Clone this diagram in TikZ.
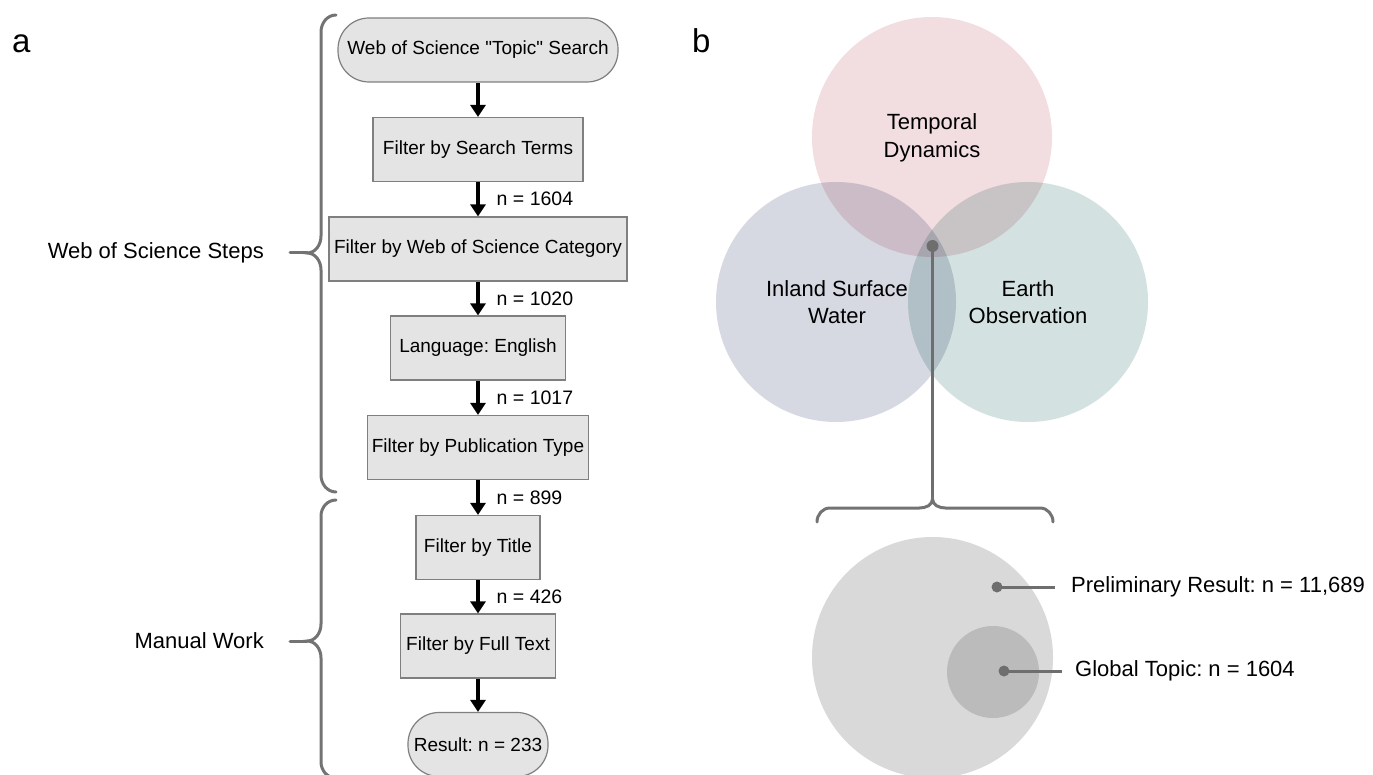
\documentclass[tikz,border=0pt]{standalone}
\usepackage{fontspec}
\setmainfont{Liberation Sans}
\usetikzlibrary{arrows.meta}
\definecolor{boxfill}{HTML}{E4E4E4}
\definecolor{boxline}{HTML}{7F7F7F}
\definecolor{bracegray}{HTML}{737373}
\definecolor{tdpink}{HTML}{F2DDE1}
\definecolor{iswblue}{HTML}{D6D9E2}
\definecolor{eogreen}{HTML}{D3E2E0}
\definecolor{prelimgray}{HTML}{D9D9D9}
\definecolor{globalgray}{HTML}{BBBBBB}
\definecolor{dotgray}{HTML}{6E6E6E}
\frenchspacing

\begin{document}
\begin{tikzpicture}[x=1pt, y=-1pt,
    stepbox/.style={draw=boxline, line width=1.2pt, fill=boxfill, inner sep=0pt,
        minimum height=64pt, font=\fontsize{19}{22}\selectfont},
    endbox/.style={stepbox, rounded corners=31pt},
    flow/.style={line width=3.4pt, -{Triangle[length=12pt,width=15pt]}},
    count/.style={anchor=west, inner sep=0pt, xshift=17pt, font=\fontsize{19.5}{22}\selectfont},
    brace/.style={draw=bracegray, line width=3pt, line cap=round},
    side/.style={anchor=east, inner sep=0pt, font=\fontsize{22}{26}\selectfont},
    venn/.style={align=center, inner sep=0pt, font=\fontsize{22}{27.5}\selectfont},
    pointer/.style={draw=dotgray, line width=3pt},
    panel/.style={anchor=base west, inner sep=0pt, font=\fontsize{33}{36}\selectfont}]
    \useasboundingbox (0,0) rectangle (1373,775);

    % a: search steps
    \node[panel] (pa) at (12,53) {a};
    \node[endbox, minimum width=280pt] (wos) at (478,50) {Web of Science \textquotedbl Topic\textquotedbl{} Search};
    \node[stepbox, minimum width=210pt] (terms) at (478,149.5) {Filter by Search Terms};
    \node[stepbox, minimum width=298pt] (category) at (478,249) {Filter by Web of Science Category};
    \node[stepbox, minimum width=175pt] (lang) at (478,348) {Language: English};
    \node[stepbox, minimum width=221pt] (pubtype) at (478,447.5) {Filter by Publication Type};
    \node[stepbox, minimum width=124pt] (title) at (478,547.5) {Filter by Title};
    \node[stepbox, minimum width=155pt] (fulltext) at (478,646) {Filter by Full Text};
    \node[endbox, minimum width=140pt] (result) at (478,744.5) {Result: n = 233};

    \draw[flow] (wos) -- (terms);
    \draw[flow] (terms) -- node[count] {n = 1604} (category);
    \draw[flow] (category) -- node[count] {n = 1020} (lang);
    \draw[flow] (lang) -- node[count] {n = 1017} (pubtype);
    \draw[flow] (pubtype) -- node[count] {n = 899} (title);
    \draw[flow] (title) -- node[count] {n = 426} (fulltext);
    \draw[flow] (fulltext) -- (result);

    % Braces on the left
    \node[side] (woslabel) at (264,253) {Web of Science Steps};
    \coordinate (wosstub) at (290,253);
    \coordinate (wostip) at (307,253);
    \draw[brace] (336,15) to[out=180,in=90] (321,32) -- (321,236)
        to[out=-90,in=0] (wostip) to[out=0,in=90] (321,270) -- (321,475)
        to[out=-90,in=180] (336,492);
    \draw[brace] (wosstub) -- (wostip);

    \node[side] (manlabel) at (264,641) {Manual Work};
    \coordinate (manstub) at (290,641);
    \coordinate (mantip) at (307,641);
    \draw[brace] (336,500) to[out=180,in=90] (321,516) -- (321,624)
        to[out=-90,in=0] (mantip) to[out=0,in=90] (321,658) -- (321,762)
        to[out=-90,in=180] (336,778);
    \draw[brace] (manstub) -- (mantip);

    % b: Venn diagram
    \node[panel] (pb) at (692,53) {b};
    \begin{scope}[blend group=multiply]
        \fill[tdpink] (932,137) circle (120pt);
        \fill[iswblue] (836,302) circle (120pt);
        \fill[eogreen] (1028,302) circle (120pt);
    \end{scope}
    \node[venn] (td) at (932,138) {Temporal\\Dynamics};
    \node[venn] (isw) at (837,302) {Inland Surface\\Water};
    \node[venn] (eo) at (1028,302) {Earth\\Observation};

    % core intersection down to the zoom
    \coordinate (core) at (932.5,246);
    \coordinate (zoomtip) at (932.5,499);
    \draw[pointer] (core) -- (zoomtip);
    \fill[dotgray] (core) circle (6pt);
    \draw[brace] (817,522) to[out=90,in=180] (830,508) -- (919.5,508)
        to[out=0,in=-90] (zoomtip) to[out=-90,in=180] (945.5,508) -- (1040,508)
        to[out=0,in=90] (1053,522);

    % Preliminary result and global topic
    \fill[prelimgray] (932.5,657.5) circle (120.5pt);
    \fill[globalgray] (993,672) circle (46pt);
    \node[anchor=west, inner sep=0pt, font=\fontsize{22}{26}\selectfont] (prelim) at (1071,587) {Preliminary Result: n = 11,689};
    \node[anchor=west, inner sep=0pt, font=\fontsize{22}{26}\selectfont] (global) at (1075,671) {Global Topic: n = 1604};
    \coordinate (prelimdot) at (997,587);
    \coordinate (globaldot) at (1004,671);
    \draw[pointer, shorten >=16pt] (prelimdot) -- (prelim.west);
    \draw[pointer, shorten >=13pt] (globaldot) -- (global.west);
    \fill[dotgray] (prelimdot) circle (5.5pt);
    \fill[dotgray] (globaldot) circle (5.5pt);
\end{tikzpicture}
\end{document}
